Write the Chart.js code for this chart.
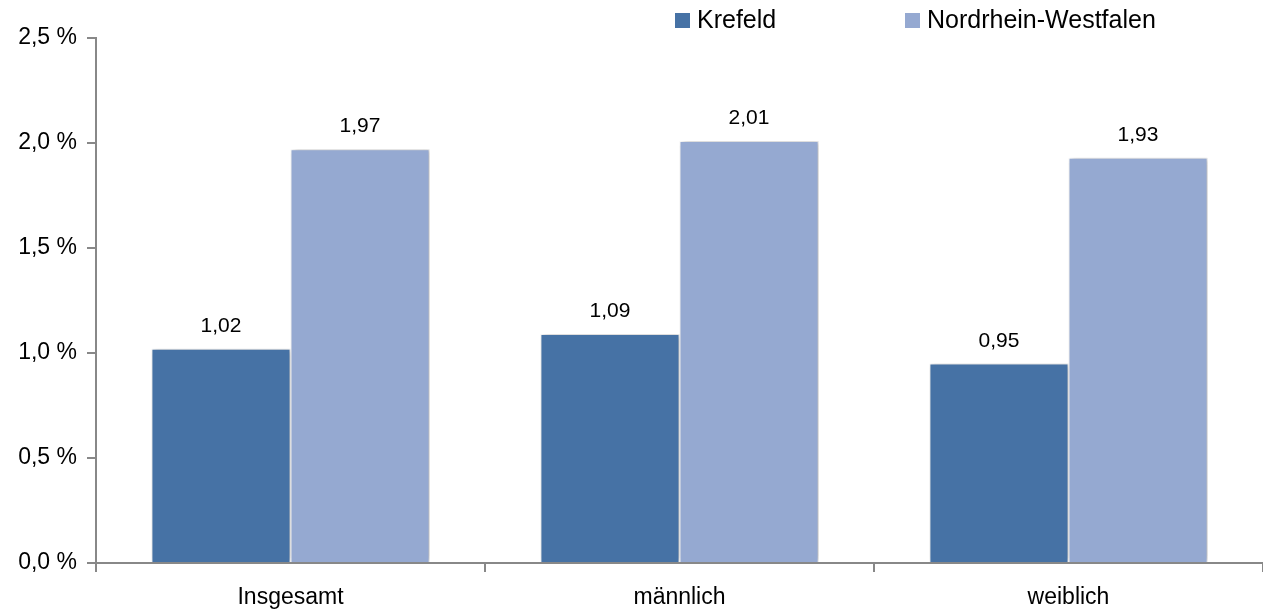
<!DOCTYPE html>
<html>
<head>
<meta charset="utf-8">
<script src="https://cdn.jsdelivr.net/npm/chart.js@4"></script>
<style>
  html, body { margin: 0; padding: 0; background: #fff; }
  #wrap { width: 1263px; height: 613px; }
</style>
</head>
<body>
<div id="wrap"><canvas id="chart" width="1263" height="613"></canvas></div>
<script>
const categories = ['Insgesamt', 'männlich', 'weiblich'];
const krefeld = [1.02, 1.09, 0.95];
const nrw = [1.97, 2.01, 1.93];
const seriesNames = ['Krefeld', 'Nordrhein-Westfalen'];
const yTicks = [0, 0.5, 1.0, 1.5, 2.0, 2.5];

const FONT = '"Liberation Sans", Arial, sans-serif';
const fmt = (v, d) => v.toFixed(d).replace('.', ',');

// soft shadow behind the bars
const barShadow = {
  id: 'barShadow',
  beforeDatasetDraw(chart) {
    const ctx = chart.ctx;
    ctx.save();
    ctx.shadowColor = 'rgba(0,0,0,0.3)';
    ctx.shadowBlur = 6;
    ctx.shadowOffsetX = 2;
    ctx.shadowOffsetY = 0;
  },
  afterDatasetDraw(chart) {
    chart.ctx.restore();
  }
};

// value labels above each bar
const valueLabels = {
  id: 'valueLabels',
  afterDatasetsDraw(chart) {
    const ctx = chart.ctx;
    ctx.save();
    ctx.font = '21px ' + FONT;
    ctx.fillStyle = '#000';
    ctx.textAlign = 'center';
    ctx.textBaseline = 'alphabetic';
    chart.data.datasets.forEach((ds, i) => {
      chart.getDatasetMeta(i).data.forEach((bar, j) => {
        ctx.fillText(fmt(ds.data[j], 2), bar.x, bar.y - 17);
      });
    });
    ctx.restore();
  }
};

// legend in the top right corner
const topLegend = {
  id: 'topLegend',
  afterDraw(chart) {
    const ctx = chart.ctx;
    const xs = [675, 905];
    ctx.save();
    ctx.font = '25px ' + FONT;
    ctx.textBaseline = 'middle';
    chart.data.datasets.forEach((ds, i) => {
      ctx.fillStyle = ds.backgroundColor;
      ctx.fillRect(xs[i], 13, 15, 15);
      ctx.fillStyle = '#000';
      ctx.fillText(ds.label, xs[i] + 22, 21);
    });
    ctx.restore();
  }
};

new Chart(document.getElementById('chart'), {
  type: 'bar',
  data: {
    labels: categories,
    datasets: [
      { label: seriesNames[0], data: krefeld, backgroundColor: '#4672A5', borderColor: '#fff', borderWidth: 1 },
      { label: seriesNames[1], data: nrw, backgroundColor: '#95A9D1', borderColor: '#fff', borderWidth: 1 }
    ]
  },
  options: {
    responsive: false,
    animation: false,
    categoryPercentage: 0.715,
    barPercentage: 1,
    layout: { padding: { top: 38, right: 0, bottom: 0, left: 0 } },
    plugins: {
      legend: { display: false },
      tooltip: { enabled: false }
    },
    scales: {
      x: {
        grid: { display: true, drawOnChartArea: false, offset: true, tickLength: 9, color: '#888', lineWidth: 2 },
        border: { color: '#888', width: 2 },
        ticks: { color: '#000', font: { family: FONT, size: 23 }, padding: 12 },
        afterFit: s => { s.height = 50; }
      },
      y: {
        min: 0,
        max: 2.5,
        afterBuildTicks: s => { s.ticks = yTicks.map(v => ({ value: v })); },
        grid: { display: true, drawOnChartArea: false, tickLength: 9, color: '#888', lineWidth: 2 },
        border: { color: '#888', width: 2 },
        ticks: {
          color: '#000',
          font: { family: FONT, size: 23 },
          padding: 10,
          callback: v => fmt(v, 1) + ' %'
        },
        afterFit: s => { s.width = 96; }
      }
    }
  },
  plugins: [barShadow, valueLabels, topLegend]
});
</script>
</body>
</html>
